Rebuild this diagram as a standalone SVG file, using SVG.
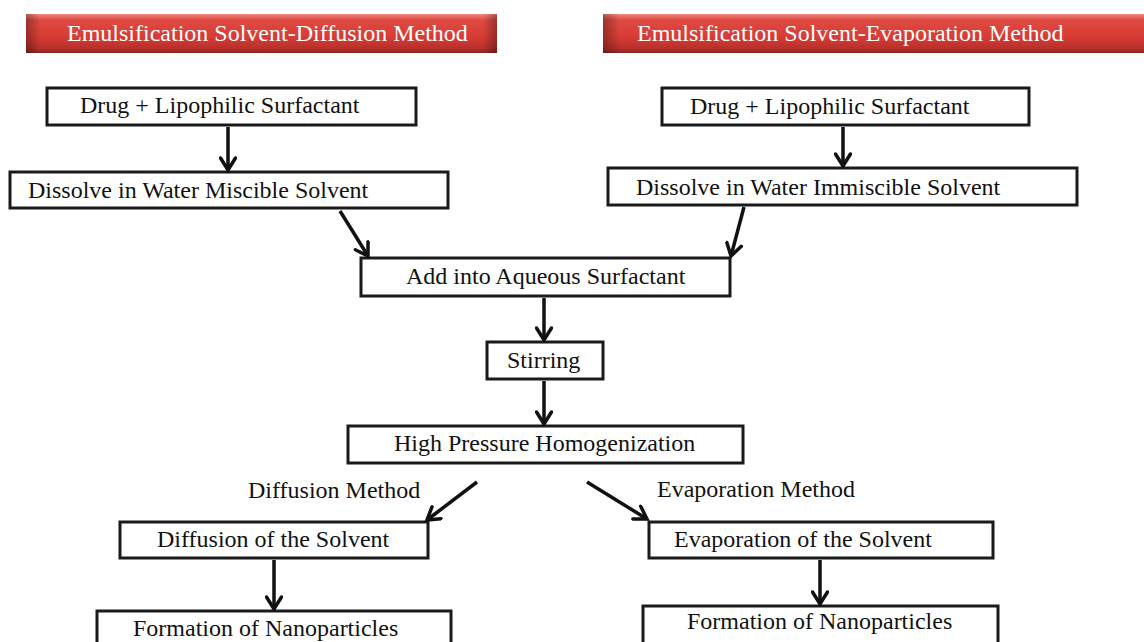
<svg xmlns="http://www.w3.org/2000/svg" width="1144" height="642" viewBox="0 0 1144 642">
  <defs>
    <linearGradient id="bannerGrad" x1="0" y1="0" x2="0" y2="1">
      <stop offset="0" stop-color="#f08a80"/>
      <stop offset="0.15" stop-color="#de4a42"/>
      <stop offset="0.6" stop-color="#d63c35"/>
      <stop offset="0.88" stop-color="#b8302b"/>
      <stop offset="1" stop-color="#8a2421"/>
    </linearGradient>
    <linearGradient id="bannerEdge" x1="0" y1="0" x2="1" y2="0">
      <stop offset="0" stop-color="#000" stop-opacity="0.3"/>
      <stop offset="0.03" stop-color="#000" stop-opacity="0"/>
      <stop offset="0.97" stop-color="#000" stop-opacity="0"/>
      <stop offset="1" stop-color="#000" stop-opacity="0.3"/>
    </linearGradient>
    <marker id="arrow" viewBox="0 0 18 18" refX="15" refY="9" markerWidth="18" markerHeight="18" markerUnits="userSpaceOnUse" orient="auto">
      <path d="M3,1.5 L15,9 L3,16.5" fill="none" stroke="#111" stroke-width="3.5" stroke-linecap="round" stroke-linejoin="miter"/>
    </marker>
    <style>
      .box { fill: #fff; stroke: #1a1a1a; stroke-width: 3; }
      .txt { font-family: "Liberation Serif", "Times New Roman", serif; font-size: 24px; fill: #111; }
      .btxt { font-family: "Liberation Serif", "Times New Roman", serif; font-size: 24px; fill: #fff; }
      .banner { fill: url(#bannerGrad); }
      .edge { fill: url(#bannerEdge); }
      .conn { stroke: #111; stroke-width: 3.5; fill: none; marker-end: url(#arrow); }
    </style>
  </defs>
  <rect width="1144" height="642" fill="#fff"/>

  <g id="banner-left">
    <rect class="banner" x="26" y="14" width="471" height="39"/>
    <rect class="edge" x="26" y="14" width="471" height="39"/>
    <text class="btxt" x="67" y="41">Emulsification Solvent-Diffusion Method</text>
  </g>
  <g id="banner-right">
    <rect class="banner" x="603" y="14" width="541" height="39"/>
    <rect class="edge" x="603" y="14" width="560" height="39"/>
    <text class="btxt" x="637" y="41">Emulsification Solvent-Evaporation Method</text>
  </g>

  <g id="left-drug">
    <rect class="box" x="47" y="88" width="369" height="37"/>
    <text class="txt" x="80" y="113">Drug + Lipophilic Surfactant</text>
  </g>
  <g id="left-dissolve">
    <rect class="box" x="10" y="172" width="438" height="36"/>
    <text class="txt" x="28" y="198">Dissolve in Water Miscible Solvent</text>
  </g>
  <g id="right-drug">
    <rect class="box" x="662" y="88" width="367" height="37"/>
    <text class="txt" x="690" y="114">Drug + Lipophilic Surfactant</text>
  </g>
  <g id="right-dissolve">
    <rect class="box" x="608" y="168" width="469" height="37"/>
    <text class="txt" x="636" y="195">Dissolve in Water Immiscible Solvent</text>
  </g>
  <g id="add-aqueous">
    <rect class="box" x="361" y="258" width="369" height="38"/>
    <text class="txt" x="406" y="284">Add into Aqueous Surfactant</text>
  </g>
  <g id="stirring">
    <rect class="box" x="487" y="342" width="116" height="37"/>
    <text class="txt" x="507" y="368">Stirring</text>
  </g>
  <g id="hph">
    <rect class="box" x="348" y="426" width="395" height="37"/>
    <text class="txt" x="394" y="451">High Pressure Homogenization</text>
  </g>
  <g id="label-diffusion">
    <text class="txt" x="248" y="498">Diffusion Method</text>
  </g>
  <g id="label-evaporation">
    <text class="txt" x="657" y="497">Evaporation Method</text>
  </g>
  <g id="diffusion-solvent">
    <rect class="box" x="120" y="522" width="308" height="36"/>
    <text class="txt" x="157" y="547">Diffusion of the Solvent</text>
  </g>
  <g id="evaporation-solvent">
    <rect class="box" x="649" y="522" width="344" height="36"/>
    <text class="txt" x="674" y="547">Evaporation of the Solvent</text>
  </g>
  <g id="formation-left">
    <rect class="box" x="97" y="611" width="354" height="40"/>
    <text class="txt" x="133" y="636">Formation of Nanoparticles</text>
  </g>
  <g id="formation-right">
    <rect class="box" x="643" y="606" width="355" height="40"/>
    <text class="txt" x="687" y="629">Formation of Nanoparticles</text>
  </g>

  <g id="connectors">
    <line class="conn" x1="228" y1="127" x2="228" y2="170"/>
    <line class="conn" x1="843" y1="127" x2="843" y2="166"/>
    <line class="conn" x1="340" y1="211" x2="368" y2="256"/>
    <line class="conn" x1="744" y1="207" x2="731" y2="256"/>
    <line class="conn" x1="544" y1="298" x2="544" y2="340"/>
    <line class="conn" x1="544" y1="381" x2="544" y2="424"/>
    <line class="conn" x1="477" y1="482" x2="427" y2="520"/>
    <line class="conn" x1="587" y1="482" x2="647" y2="519"/>
    <line class="conn" x1="274" y1="560" x2="274" y2="609"/>
    <line class="conn" x1="820" y1="560" x2="820" y2="604"/>
  </g>
</svg>
